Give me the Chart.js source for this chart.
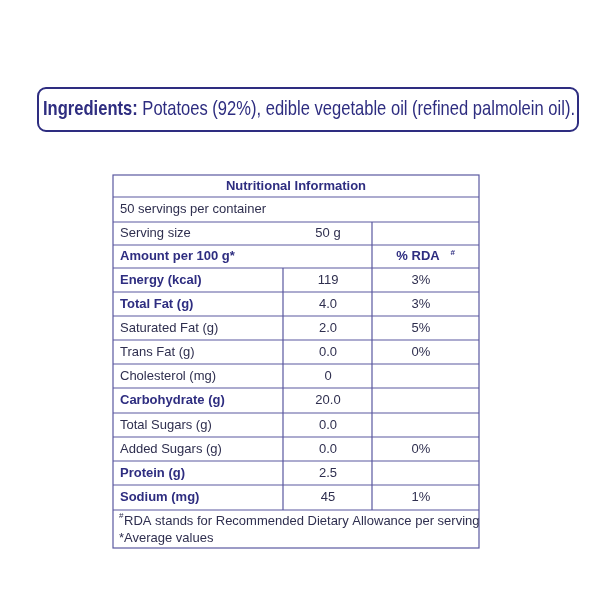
<!DOCTYPE html>
<html><head><meta charset="utf-8">
<script src="https://cdn.jsdelivr.net/npm/chart.js@4"></script>
<style>html,body{margin:0;padding:0;background:#fff}#w{width:600px;height:600px}</style>
</head><body><div id="w"><canvas id="c"></canvas></div>
<script>
const ingredientsLabel = "Ingredients:";
const ingredientsText = " Potatoes (92%), edible vegetable oil (refined palmolein oil).";
const title = "Nutritional Information";
const servingsText = "50 servings per container";
const servingSizeLabel = "Serving size";
const servingSizeValue = "50 g";
const amountHeader = "Amount per 100 g*";
const rdaHeader = "% RDA#";
const nutrients = ["Energy (kcal)","Total Fat (g)","Saturated Fat (g)","Trans Fat (g)","Cholesterol (mg)","Carbohydrate (g)","Total Sugars (g)","Added Sugars (g)","Protein (g)","Sodium (mg)"];
const boldRows = [true,true,false,false,false,true,false,false,true,true];
const amounts = ["119","4.0","2.0","0.0","0","20.0","0.0","0.0","2.5","45"];
const rdaValues = ["3%","3%","5%","0%","","","","0%","",  "1%"];
const footnotes = ["#RDA stands for Recommended Dietary Allowance per serving","*Average values"];

const NAVY = "#2e2d80", LINE = "#5a59a0", TXT = "#2f2f4f";
const rowEdges = [175,197,222,245,268,292,316,340,364,388,413,437,461,485,510,548];

const tablePlugin = {
  id:'table',
  afterDraw(chart){
    const ctx = chart.ctx, X = v=>chart.scales.x.getPixelForValue(v), Y = v=>chart.scales.y.getPixelForValue(v);
    ctx.save();
    // Ingredients box
    ctx.strokeStyle = NAVY; ctx.lineWidth = 2;
    ctx.beginPath(); ctx.roundRect(X(38),Y(88),X(578)-X(38),Y(131)-Y(88),8); ctx.stroke();
    ctx.textBaseline = 'middle';
    ctx.font = 'bold 21px "Liberation Sans Narrow", "Liberation Sans", sans-serif';
    const totalW = 532;
    ctx.fillStyle = NAVY;
    const w1 = ctx.measureText(ingredientsLabel).width;
    ctx.font = '21px "Liberation Sans Narrow", "Liberation Sans", sans-serif';
    const w2 = ctx.measureText(ingredientsText).width;
    const s = totalW/(w1+w2);
    ctx.font = 'bold 21px "Liberation Sans Narrow", "Liberation Sans", sans-serif';
    ctx.fillText(ingredientsLabel, X(43), Y(109), w1*s);
    ctx.font = '21px "Liberation Sans Narrow", "Liberation Sans", sans-serif';
    ctx.fillText(ingredientsText, X(43)+w1*s, Y(109), w2*s);

    // table lines
    const L=X(113), R=X(479), c1=X(283), c2=X(372);
    ctx.strokeStyle = LINE; ctx.lineWidth = 1.2;
    ctx.strokeRect(L,Y(175),R-L,Y(548)-Y(175));
    for (let i=1;i<rowEdges.length-1;i++){ ctx.beginPath(); ctx.moveTo(L,Y(rowEdges[i])); ctx.lineTo(R,Y(rowEdges[i])); ctx.stroke(); }
    ctx.beginPath(); ctx.moveTo(c2,Y(222)); ctx.lineTo(c2,Y(510)); ctx.moveTo(c1,Y(268)); ctx.lineTo(c1,Y(510)); ctx.stroke();

    const mid = i => (Y(rowEdges[i])+Y(rowEdges[i+1]))/2;
    const fB = 'bold 13px "Liberation Sans", Arial, sans-serif', fN = '13px "Liberation Sans", Arial, sans-serif';
    ctx.textAlign='center'; ctx.font=fB; ctx.fillStyle=NAVY;
    ctx.fillText(title, X(296), mid(0));
    ctx.textAlign='left'; ctx.font=fN; ctx.fillStyle=TXT;
    ctx.fillText(servingsText, X(120), mid(1));
    ctx.fillText(servingSizeLabel, X(120), mid(2));
    ctx.textAlign='center'; ctx.fillText(servingSizeValue, X(328), mid(2));
    ctx.textAlign='left'; ctx.font=fB; ctx.fillStyle=NAVY;
    ctx.fillText(amountHeader, X(120), mid(3));
    ctx.textAlign='center';
    ctx.fillText(rdaHeader.replace('#',''), X(418), mid(3));
    ctx.font='bold 8px "Liberation Sans", Arial, sans-serif';
    ctx.fillText('#', X(418)+ctx.measureText('% RDA').width+8, mid(3)-4);
    nutrients.forEach((n,k)=>{
      const m = mid(4+k);
      ctx.textAlign='left';
      ctx.font = boldRows[k]?fB:fN; ctx.fillStyle = boldRows[k]?NAVY:TXT;
      ctx.fillText(n, X(120), m);
      ctx.font=fN; ctx.fillStyle=TXT; ctx.textAlign='center';
      ctx.fillText(amounts[k], X(328), m);
      if (rdaValues[k]) ctx.fillText(rdaValues[k], X(421), m);
    });
    ctx.textAlign='left'; ctx.font=fN; ctx.fillStyle=TXT;
    ctx.font='8px "Liberation Sans", Arial, sans-serif'; ctx.fillText('#', X(119), Y(516));
    ctx.font=fN; ctx.fillText(footnotes[0].slice(1), X(124), Y(521));
    ctx.fillText(footnotes[1], X(119), Y(538));
    ctx.restore();
  }
};

new Chart(document.getElementById('c'), {
  type:'scatter',
  data:{datasets:[{data:[],showLine:false}]},
  options:{
    responsive:true, maintainAspectRatio:false, animation:false,
    layout:{padding:0},
    plugins:{legend:{display:false},tooltip:{enabled:false}},
    scales:{
      x:{type:'linear',min:0,max:600,display:false},
      y:{type:'linear',min:0,max:600,reverse:true,display:false}
    }
  },
  plugins:[tablePlugin]
});
</script></body></html>
